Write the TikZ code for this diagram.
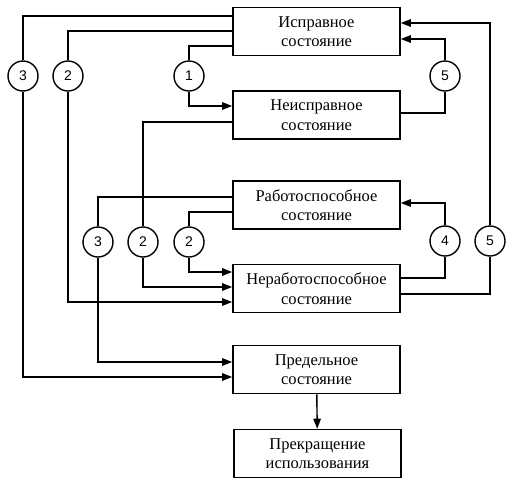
\documentclass[tikz,border=0pt]{standalone}
\usepackage{fontspec}
\setmainfont{Liberation Serif}
\newfontfamily\numfont{Liberation Sans}
\usetikzlibrary{arrows.meta}
\tikzset{
  stbox/.style={draw, line width=1.6pt, minimum width=167pt, minimum height=48pt, inner sep=0pt,
    align=center, font=\fontsize{16.5}{19.5}\selectfont},
  num/.style={draw, circle, line width=1.4pt, minimum size=30pt, inner sep=0pt, fill=white,
    font=\numfont\fontsize{14}{14}\selectfont},
  conn/.style={line width=1.4pt},
  arr/.style={conn, -{Triangle[length=10pt,width=7.5pt]}}
}
\begin{document}
\begin{tikzpicture}[x=1pt,y=-1pt]
\useasboundingbox[fill=white] (0,0) rectangle (513,483);
\node[stbox] (b1) at (316.5,31.5) {Исправное\\состояние};
\node[stbox] (b2) at (316.5,115) {Неисправное\\состояние};
\node[stbox] (b3) at (316.5,205) {Работоспособное\\состояние};
\node[stbox] (b4) at (316.5,288.5) {Неработоспособное\\состояние};
\node[stbox] (b5) at (316.5,369.5) {Предельное\\состояние};
\node[stbox] (b6) at (317.5,453.5) {Прекращение\\использования};

\node[num] (c3a) at (23,76) {3};
\node[num] (c2a) at (68,76) {2};
\node[num] (c1)  at (189,76) {1};
\node[num] (c5a) at (445,76) {5};
\node[num] (c3b) at (98,242) {3};
\node[num] (c2b) at (143,242) {2};
\node[num] (c2c) at (189,242) {2};
\node[num] (c4)  at (445,241) {4};
\node[num] (c5b) at (490,241) {5};

% from b1 (left side)
\draw[conn] ([yshift=15.5pt]b1.west) -| (c3a);
\draw[arr] (c3a) |- ([yshift=-7.5pt]b5.west);
\draw[conn] ([yshift=0.5pt]b1.west) -| (c2a);
\draw[arr] (c2a) |- ([yshift=-13.5pt]b4.west);
\draw[conn] ([yshift=-14.5pt]b1.west) -| (c1);
\draw[arr] (c1) |- ([yshift=9pt]b2.west);

% from b2
\draw[conn] ([yshift=-7pt]b2.west) -| (c2b);
\draw[arr] (c2b) |- ([yshift=1.5pt]b4.west);
\draw[conn] ([yshift=2pt]b2.east) -| (c5a);
\draw[arr] (c5a) |- ([yshift=-7.5pt]b1.east);

% from b3
\draw[conn] ([yshift=8pt]b3.west) -| (c3b);
\draw[arr] (c3b) |- ([yshift=7.5pt]b5.west);
\draw[conn] ([yshift=-7pt]b3.west) -| (c2c);
\draw[arr] (c2c) |- ([yshift=16.5pt]b4.west);

% from b4 (right side)
\draw[conn] ([yshift=10.5pt]b4.east) -| (c4);
\draw[arr] (c4) |- ([yshift=2pt]b3.east);
\draw[conn] ([yshift=-5.5pt]b4.east) -| (c5b);
\draw[arr] (c5b) |- ([yshift=8.5pt]b1.east);

% b5 -> b6
\draw[arr] (b5) -- (b6);
\end{tikzpicture}
\end{document}
